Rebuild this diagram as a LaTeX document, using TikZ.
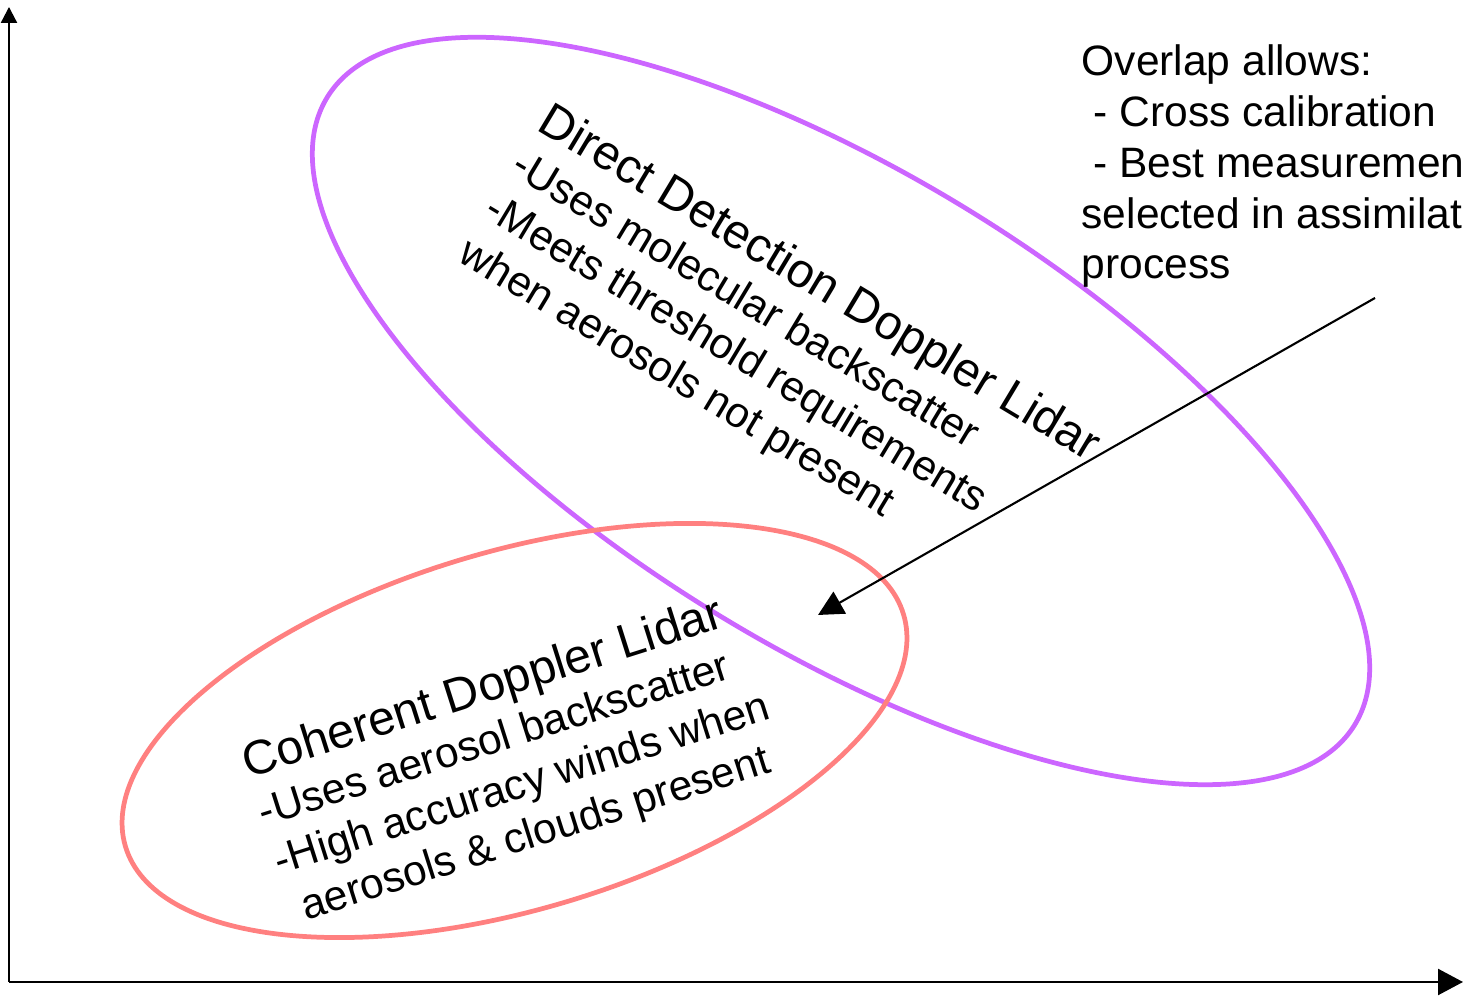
\documentclass[tikz,border=0pt]{standalone}
\usepackage{fontspec}
\setmainfont{Liberation Sans}
\usepackage{tikz}
\usetikzlibrary {arrows.meta}

\definecolor{ddlpurple}{RGB}{204,102,255}
\definecolor{cdlred}{RGB}{255,128,128}
\newcommand{\lidartitle}[1]{{\fontsize{13.7}{14.5}\selectfont #1}}

\begin{document}
\begin{tikzpicture}[
    axisline/.style={line width=0.65pt},
    lidarring/.style={line width=1.35pt},
    lidartext/.style={inner sep=0pt,align=left,anchor=base west,font=\fontsize{12.1}{14.5}\selectfont}]
  \useasboundingbox (0,0) rectangle (14.64,9.97);
  % axes
  \coordinate (origin) at (0.09,0.15);
  \coordinate (ytip) at (0.09,9.90);
  \coordinate (xtip) at (14.63,0.15);
  \draw[axisline,-{Triangle[length=1.6mm,width=1.6mm]}] (origin) -- (ytip);
  \draw[axisline,-{Triangle[length=2.5mm,width=2.6mm]}] (origin) -- (xtip);
  % the two lidar regions
  \draw[lidarring,color=ddlpurple,rotate around={-31.4:(8.41,5.86)}] (8.41,5.86) ellipse (6.02 and 2.38);
  \draw[lidarring,color=cdlred,rotate around={16.6:(5.145,2.665)}] (5.145,2.665) ellipse (4.06 and 1.79);
  % labels (placed by the baseline of their last line)
  \node[lidartext,rotate=-31] (ddl) at (4.56,7.37)
    {\lidartitle{Direct Detection Doppler Lidar}\\-Uses molecular backscatter\\-Meets threshold requirements\\when aerosols not present};
  \node[lidartext,rotate=17.6] (cdl) at (2.94,0.73)
    {\lidartitle{Coherent Doppler Lidar}\\-Uses aerosol backscatter\\-High accuracy winds when\\\hspace*{.28em}aerosols \& clouds present};
  \node[lidartext] (overlap) at (10.81,7.18)
    {Overlap allows:\\\hspace*{.28em}- Cross calibration\\\hspace*{.28em}- Best measuremen\\selected in assimilat\\process};
  % arrow into the overlap
  \coordinate (arrowstart) at (13.75,6.99);
  \coordinate (overlapspot) at (8.18,3.82);
  \draw[line width=0.6pt,-{Triangle[length=2.5mm,width=2.5mm]}] (arrowstart) -- (overlapspot);
\end{tikzpicture}
\end{document}
